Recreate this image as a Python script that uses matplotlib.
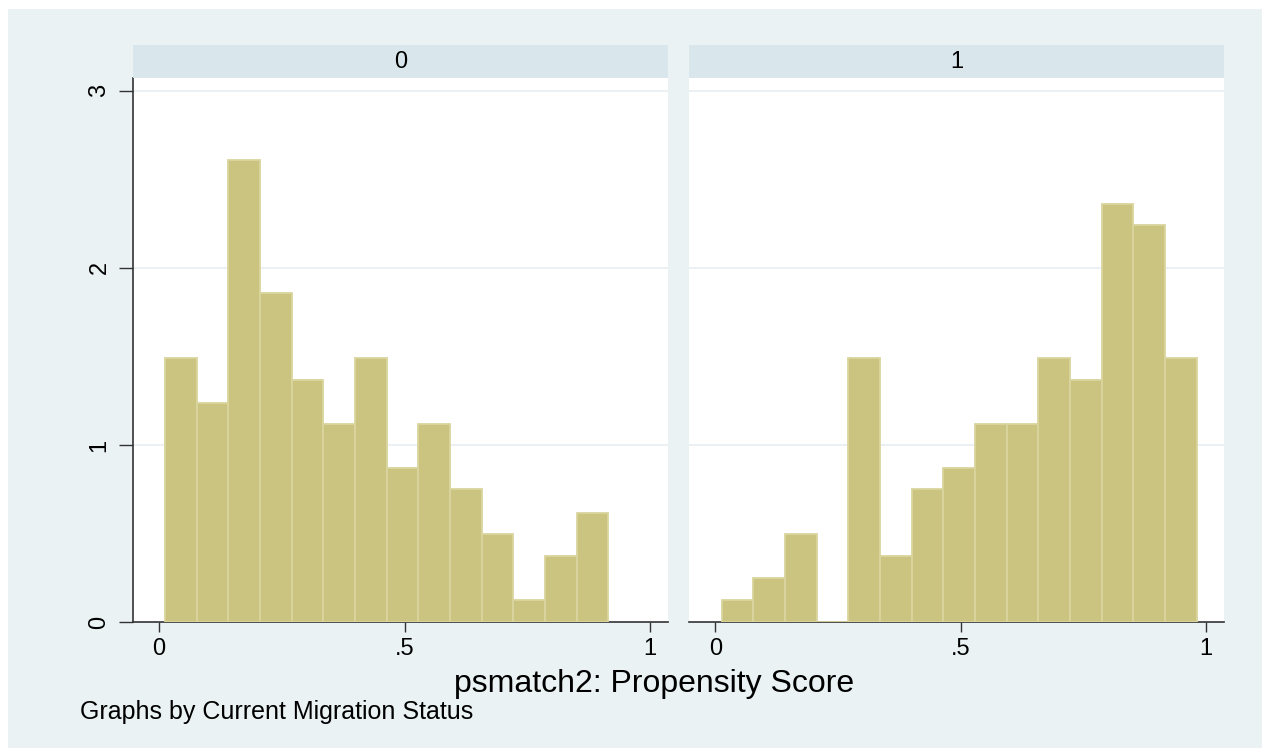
import matplotlib
matplotlib.use("Agg")
import matplotlib.pyplot as plt
from matplotlib.patches import Rectangle
import numpy as np

plt.rcParams["font.family"] = ["Liberation Sans", "DejaVu Sans"]

# histogram densities, one array per migration status
groups = ["0", "1"]
bin_start = [0.012, 0.013]
bin_width = [0.0645, 0.0645]
density_0 = [1.49, 1.24, 2.61, 1.86, 1.37, 1.12, 1.49, 0.87, 1.12, 0.75, 0.50, 0.125, 0.375, 0.62]
density_1 = [0.125, 0.25, 0.50, 0.0, 1.49, 0.375, 0.75, 0.87, 1.12, 1.12, 1.49, 1.37, 2.36, 2.24, 1.49]
densities = [density_0, density_1]

x_ticks = [0, 0.5, 1]
x_ticklabels = ["0", ".5", "1"]
y_ticks = [0, 1, 2, 3]

xlabel = "psmatch2: Propensity Score"
note = "Graphs by Current Migration Status"

W, H = 1262, 748
bg = "#EAF2F3"
strip_col = "#D9E6EB"
bar_fill = "#CBC481"
bar_edge = "#DAD59E"
axis_col = "#333333"

fig = plt.figure(figsize=(W / 100, H / 100), dpi=100)
fig.patch.set_facecolor(bg)
# thin white margin on top and left
fig.patches.append(Rectangle((0, 1 - 9 / H), 1, 9 / H, transform=fig.transFigure,
                             facecolor="white", edgecolor="none"))
fig.patches.append(Rectangle((0, 0), 8 / W, 1, transform=fig.transFigure,
                             facecolor="white", edgecolor="none"))

panel_x = [(132.6, 667.9), (688.9, 1223.9)]
y_bot, y_top = 622.4, 78.4
strip_top = 45

for k, (x0, x1) in enumerate(panel_x):
    ax = fig.add_axes([x0 / W, (H - y_bot) / H, (x1 - x0) / W, (y_bot - y_top) / H])
    ax.set_facecolor("white")
    dens = densities[k]
    lefts = bin_start[k] + bin_width[k] * np.arange(len(dens))
    ax.bar(lefts, dens, width=bin_width[k], align="edge", color=bar_fill,
           edgecolor=bar_edge, linewidth=1.3, zorder=3)
    ax.set_xlim(-0.054, 1.036)
    ax.set_ylim(0, 3.069)
    ax.set_yticks(y_ticks)
    for yv in y_ticks[1:]:
        ax.axhline(yv, color="#E6EEF1", linewidth=1.2, zorder=1)
    ax.set_xticks(x_ticks)
    ax.set_xticklabels(x_ticklabels, fontsize=17)
    ax.tick_params(axis="x", length=7, width=1, color=axis_col, pad=4)
    for s in ["top", "right"]:
        ax.spines[s].set_visible(False)
    ax.spines["bottom"].set_color(axis_col)
    ax.spines["bottom"].set_linewidth(1.2)
    if k == 0:
        ax.spines["left"].set_color(axis_col)
        ax.spines["left"].set_linewidth(1.2)
        ax.set_yticklabels([str(v) for v in y_ticks], fontsize=17, rotation=90, va="center")
        ax.tick_params(axis="y", length=10, width=1, color=axis_col, pad=6)
    else:
        ax.spines["left"].set_visible(False)
        ax.tick_params(axis="y", left=False, labelleft=False)

    # strip header
    fig.patches.append(Rectangle((x0 / W, (H - y_top) / H), (x1 - x0) / W,
                                 (y_top - strip_top) / H, transform=fig.transFigure,
                                 facecolor=strip_col, edgecolor="none"))
    fig.text((x0 + x1) / 2 / W, (H - (strip_top + y_top) / 2) / H, groups[k],
             ha="center", va="center", fontsize=17, color="black")

fig.text(654 / W, 1 - 684 / H, xlabel, ha="center", va="center", fontsize=23)
fig.text(80 / W, 1 - 712 / H, note, ha="left", va="center", fontsize=18)

fig.savefig("out.png", dpi=100, facecolor=fig.get_facecolor())
